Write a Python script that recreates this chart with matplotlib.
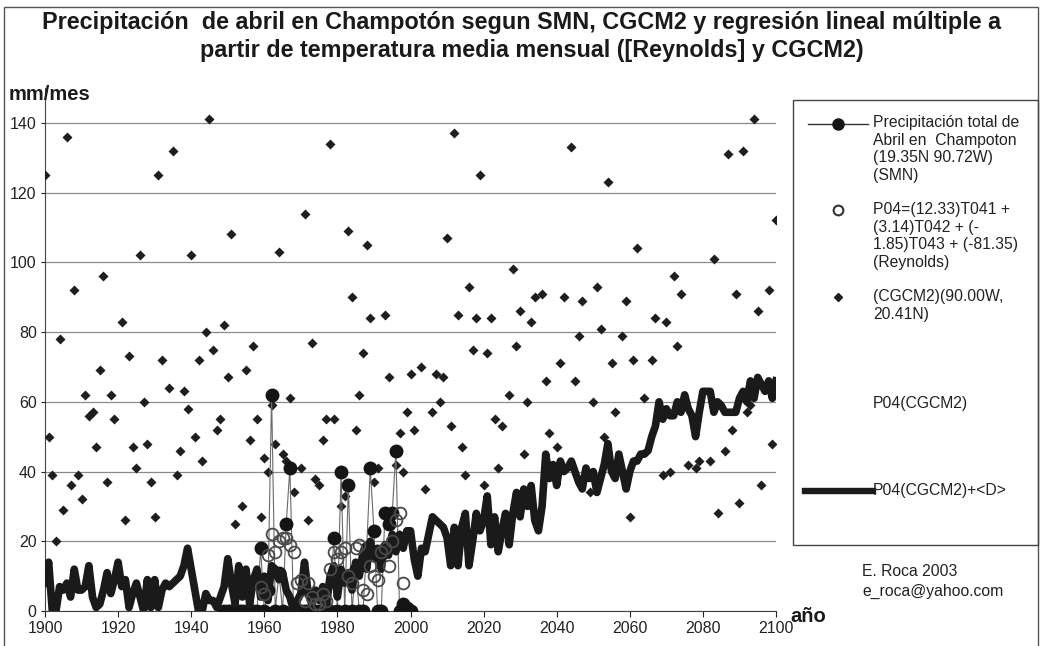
import matplotlib.pyplot as plt
from matplotlib.patches import Rectangle
from matplotlib.lines import Line2D

plt.rcParams['font.family'] = ['Liberation Sans', 'DejaVu Sans']

# P04(CGCM2)+<D>, one value per year 1900-2100
p04d_years = list(range(1900, 2101))
p04d = [8, 14, 0, 0, 7, 6, 8, 4, 12, 6,
        6, 7, 13, 4, 1, 2, 6, 11, 5, 9,
        14, 7, 9, 1, 5, 8, 4, 0, 9, 1,
        9, 1, 6, 8, 7, 8, 9, 10, 13, 18,
        12, 6, 0, 0, 5, 3, 3, 1, 4, 7,
        15, 8, 2, 13, 4, 12, 2, 9, 12, 4,
        10, 3, 13, 12, 9, 11, 6, 4, 0, 3,
        5, 14, 5, 2, 6, 3, 7, 2, 10, 13,
        4, 12, 8, 11, 6, 14, 10, 17, 12, 20,
        15, 18, 12, 19, 16, 22, 17, 22, 18, 23,
        23, 15, 10, 18, 17, 22, 27, 26, 25, 24,
        21, 13, 24, 13, 24, 28, 13, 20, 28, 23,
        26, 33, 19, 27, 17, 23, 28, 19, 28, 34,
        27, 35, 30, 36, 26, 23, 30, 45, 38, 42,
        36, 43, 40, 41, 43, 40, 37, 35, 41, 38,
        40, 34, 38, 42, 48, 40, 38, 45, 40, 35,
        40, 43, 43, 45, 45, 46, 50, 53, 60, 55,
        58, 56, 56, 60, 57, 62, 58, 56, 50, 57,
        63, 63, 63, 57, 60, 59, 57, 57, 57, 57,
        61, 63, 60, 66, 61, 67, 65, 63, 66, 61,
        66]

# SMN observed April precipitation
smn_years = list(range(1949, 2001))
smn = [0, 0, 0, 0, 0, 0, 0, 0, 0, 0, 18,
       0, 6, 62, 0, 11, 0, 25, 41, 0, 0,
       0, 0, 0, 0, 0, 0, 0, 0, 0, 21,
       0, 40, 0, 36, 0, 12, 0, 0, 18, 41,
       23, 0, 0, 28, 25, 28, 46, 0, 2, 1,
       0]

# regression with Reynolds temperatures
rey_years = list(range(1959, 1999))
rey = [7, 5, 16, 22, 17, 20, 21, 21, 19, 17,
       8, 9, 3, 8, 4, 2, 2, 5, 3, 12,
       17, 15, 17, 18, 10, 8, 18, 19, 6, 5,
       13, 10, 9, 17, 18, 13, 20, 26, 28, 8]

# CGCM2 grid point values
cg_years = [1900, 1901, 1902, 1903, 1904, 1905, 1906, 1907, 1908, 1909,
            1910, 1911, 1912, 1913, 1914, 1915, 1916, 1917, 1918, 1919,
            1921, 1922, 1923, 1924, 1925, 1926, 1927, 1928, 1929, 1930,
            1931, 1932, 1934, 1935, 1936, 1937, 1938, 1939, 1940, 1941,
            1942, 1943, 1944, 1945, 1946, 1947, 1948, 1949, 1950, 1951,
            1952, 1954, 1955, 1956, 1957, 1958, 1959, 1960, 1961, 1962,
            1963, 1964, 1965, 1966, 1967, 1968, 1970, 1971, 1972, 1973,
            1974, 1975, 1976, 1977, 1978, 1979, 1981, 1982, 1983, 1984,
            1985, 1986, 1987, 1988, 1989, 1990, 1991, 1993, 1994, 1996,
            1997, 1998, 1999, 2000, 2001, 2003, 2004, 2006, 2007, 2008,
            2009, 2010, 2011, 2012, 2013, 2014, 2015, 2016, 2017, 2018,
            2019, 2020, 2021, 2022, 2023, 2024, 2025, 2027, 2028, 2029,
            2030, 2031, 2032, 2033, 2034, 2036, 2037, 2038, 2040, 2041,
            2042, 2044, 2045, 2046, 2047, 2049, 2050, 2051, 2052, 2053,
            2054, 2055, 2056, 2058, 2059, 2060, 2061, 2062, 2064, 2066,
            2067, 2069, 2070, 2071, 2072, 2073, 2074, 2076, 2078, 2079,
            2082, 2083, 2084, 2086, 2087, 2088, 2089, 2090, 2091, 2092,
            2093, 2094, 2095, 2096, 2098, 2099, 2100]
cg = [125, 50, 39, 20, 78, 29, 136, 36, 92, 39,
      32, 62, 56, 57, 47, 69, 96, 37, 62, 55,
      83, 26, 73, 47, 41, 102, 60, 48, 37, 27,
      125, 72, 64, 132, 39, 46, 63, 58, 102, 50,
      72, 43, 80, 141, 75, 52, 55, 82, 67, 108,
      25, 30, 69, 49, 76, 55, 27, 44, 40, 59,
      48, 103, 45, 43, 61, 34, 41, 114, 26, 77,
      38, 36, 49, 55, 134, 55, 30, 33, 109, 90,
      52, 62, 74, 105, 84, 37, 41, 85, 67, 42,
      51, 40, 57, 68, 52, 70, 35, 57, 68, 60,
      67, 107, 53, 137, 85, 47, 39, 93, 75, 84,
      125, 36, 74, 84, 55, 41, 53, 62, 98, 76,
      86, 45, 60, 83, 90, 91, 66, 51, 47, 71,
      90, 133, 66, 79, 89, 34, 60, 93, 81, 50,
      123, 71, 57, 79, 89, 27, 72, 104, 61, 72,
      84, 39, 83, 40, 96, 76, 91, 42, 41, 43,
      43, 101, 28, 46, 131, 52, 91, 31, 132, 57,
      59, 141, 86, 36, 92, 48, 112]

fig = plt.figure(figsize=(10.42, 6.46), dpi=100)
ax = fig.add_axes([45 / 1042, 1 - 611 / 646, 731 / 1042, 523 / 646])

ax.scatter(cg_years, cg, marker='D', s=26, color='#1e1e1e', zorder=3,
           linewidths=0)
ax.plot(smn_years, smn, color='#6a6a6a', lw=0.8, zorder=4)
ax.plot(smn_years, smn, 'o', ms=9, color='#151515', zorder=5)
ax.plot(p04d_years, p04d, color='#1a1a1a', lw=5.5, zorder=6,
        solid_joinstyle='round')
ax.plot(rey_years, rey, 'o', ms=8.5, mfc='none', mec='#4a4a4a', mew=1.3,
        zorder=7)

ax.set_xlim(1900, 2100)
ax.set_ylim(0, 150)
ax.set_xticks(range(1900, 2101, 20))
ax.set_yticks(range(0, 141, 20))
ax.grid(axis='y', color='#8a8a8a', lw=0.9)
ax.set_axisbelow(True)
for s in ['top', 'right']:
    ax.spines[s].set_visible(False)
for s in ['left', 'bottom']:
    ax.spines[s].set_color('#444444')
ax.tick_params(axis='both', labelsize=11.5, colors='#222222', length=4,
               width=0.8, pad=3)
ax.tick_params(axis='y', length=3)
ax.set_facecolor('none')

# overlay in pixel coordinates for titles, legend and frame
ov = fig.add_axes([0, 0, 1, 1], zorder=10)
ov.set_xlim(0, 1042)
ov.set_ylim(646, 0)
ov.axis('off')
ov.patch.set_alpha(0)

ov.add_patch(Rectangle((4, 7), 1034, 650, fill=False, ec='#555555', lw=1))
ov.text(522, 22, 'Precipitación  de abril en Champotón segun SMN, CGCM2 y '
        'regresión lineal múltiple a', ha='center', va='center',
        fontsize=16.8, fontweight='bold', color='#1a1a1a')
ov.text(532, 50, 'partir de temperatura media mensual ([Reynolds] y CGCM2)',
        ha='center', va='center', fontsize=16.8, fontweight='bold',
        color='#1a1a1a')
ov.text(9, 94, 'mm/mes', ha='left', va='center', fontsize=14.5,
        fontweight='bold', color='#1a1a1a')
ov.text(790, 617, 'año', ha='left', va='center', fontsize=14.5,
        fontweight='bold', color='#1a1a1a')

# legend
ov.add_patch(Rectangle((793, 100), 245, 445, fill=False, ec='#444444', lw=1))
ov.add_line(Line2D([808, 868], [124, 124], color='#333333', lw=1))
ov.plot([838], [124], 'o', ms=8, color='#151515')
ov.plot([838], [210], 'o', ms=7, mfc='none', mec='#333333', mew=1.5)
ov.plot([838], [297], 'D', ms=4.5, color='#1e1e1e')
ov.add_line(Line2D([805, 873], [491, 491], color='#1a1a1a', lw=4.6))

leg_font = dict(fontsize=11.3, color='#222222', ha='left', va='top',
                linespacing=1.22)
ov.text(873, 115, 'Precipitación total de\nAbril en  Champoton\n'
        '(19.35N 90.72W)\n(SMN)', **leg_font)
ov.text(873, 202, 'P04=(12.33)T041 +\n(3.14)T042 + (-\n'
        '1.85)T043 + (-81.35)\n(Reynolds)', **leg_font)
ov.text(873, 289, '(CGCM2)(90.00W,\n20.41N)', **leg_font)
ov.text(873, 396, 'P04(CGCM2)', **leg_font)
ov.text(873, 483, 'P04(CGCM2)+<D>', **leg_font)
ov.text(862, 572, 'E. Roca 2003', fontsize=11.3, color='#222222',
        ha='left', va='center')
ov.text(862, 591, 'e_roca@yahoo.com', fontsize=11.3, color='#222222',
        ha='left', va='center')

fig.savefig('out.png', dpi=100)
